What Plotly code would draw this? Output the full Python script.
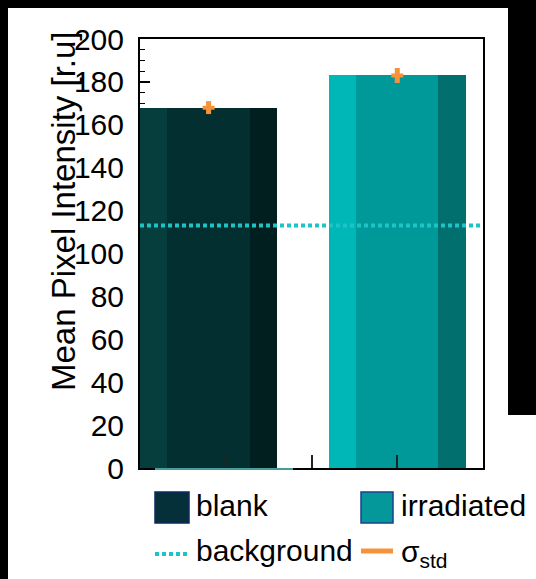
import plotly.graph_objects as go

# ---------------- data ----------------
categories = ["blank", "irradiated"]
mean_intensity = [168, 183]
sigma_std = [3.0, 3.5]
background_level = 113
y_tick_values = [0, 20, 40, 60, 80, 100, 120, 140, 160, 180, 200]
y_tick_labels = ["0", "20", "40", "60", "80", "100", "120", "140", "160", "180", "200"]

# ---------------- style ----------------
W, H = 536, 579
L, R, T, B = 140, 53, 39, 111
PW, PH = W - L - R, H - T - B
FONT = "Liberation Sans, Arial, Helvetica, sans-serif"

centers = [0.2, 0.75]          # bar positions on the x axis (0..1)
bar_width = 0.4
shade_cols = {
    "left": ["#063e3e", "#00b7b7"],
    "mid": ["#032f31", "#009999"],
    "right": ["#021f20", "#006f6e"],
}
shade_frac = {"left": (0.0, 0.2), "mid": (0.2, 0.8), "right": (0.8, 1.0)}
ORANGE = "#f6923a"
CYAN = "#1ec3c6"


def px(x):
    return (x - L) / PW


def py(y):
    return (H - B - y) / PH


fig = go.Figure()

for part, (f0, f1) in shade_frac.items():
    xs = [c - bar_width / 2 + bar_width * (f0 + f1) / 2 for c in centers]
    ws = [bar_width * (f1 - f0)] * len(centers)
    fig.add_trace(go.Bar(
        x=xs, y=mean_intensity, width=ws,
        marker=dict(color=shade_cols[part], line=dict(width=0)),
        name=part, showlegend=False, hoverinfo="skip",
    ))

# background level (dotted)
fig.add_trace(go.Scatter(
    x=[0, 1], y=[background_level, background_level], mode="lines",
    line=dict(color=CYAN, width=4, dash="4px,3px"),
    name="background", showlegend=False,
))

# sigma_std error bars
fig.add_trace(go.Scatter(
    x=centers, y=mean_intensity, mode="markers",
    marker=dict(symbol="cross", size=10, color=ORANGE, line=dict(width=0)),
    error_y=dict(type="data", array=sigma_std, color=ORANGE, thickness=5, width=0),
    name="σ_std", showlegend=False,
))

shapes = []
annotations = []

# black window frame
for x0, x1, y0, y1 in [(0, 8, 0, H), (0, W, 0, 8), (508, W, 0, 415)]:
    shapes.append(dict(type="rect", xref="paper", yref="paper",
                       x0=px(x0), x1=px(x1), y0=py(y1), y1=py(y0),
                       fillcolor="black", line=dict(width=0), layer="above"))

# thin cyan line at bottom of blank bar
shapes.append(dict(type="line", xref="paper", yref="paper",
                   x0=px(155), x1=px(293), y0=py(469), y1=py(469),
                   line=dict(color="#5fd0d0", width=1.5), layer="above"))

# legend symbols
shapes.append(dict(type="rect", xref="paper", yref="paper",
                   x0=px(155), x1=px(189), y0=py(523), y1=py(492),
                   fillcolor="#05303a", line=dict(color="#0d2a60", width=1.5)))
shapes.append(dict(type="rect", xref="paper", yref="paper",
                   x0=px(361), x1=px(393), y0=py(523), y1=py(492),
                   fillcolor="#05989b", line=dict(color="#1c3f8a", width=1.5)))
shapes.append(dict(type="line", xref="paper", yref="paper",
                   x0=px(155), x1=px(188), y0=py(554), y1=py(554),
                   line=dict(color=CYAN, width=4, dash="4px,3px")))
shapes.append(dict(type="line", xref="paper", yref="paper",
                   x0=px(361), x1=px(393), y0=py(551), y1=py(551),
                   line=dict(color=ORANGE, width=5)))

leg_font = dict(family=FONT, size=30, color="black")
for text, x, y in [("blank", 194, 505), ("irradiated", 399, 505),
                   ("background", 194, 550), ("σ<sub>std</sub>", 399, 553)]:
    annotations.append(dict(text=text, x=px(x), y=py(y), xref="paper", yref="paper",
                            xanchor="left", yanchor="middle", showarrow=False,
                            font=leg_font))

# y-axis title
annotations.append(dict(text="Mean Pixel Intensity [r.u]", x=px(63), y=py(211),
                        xref="paper", yref="paper", xanchor="center", yanchor="middle",
                        textangle=-90, showarrow=False,
                        font=dict(family=FONT, size=33, color="black")))

fig.update_layout(
    width=W, height=H,
    margin=dict(l=L, r=R, t=T, b=B, pad=0),
    paper_bgcolor="white", plot_bgcolor="white",
    barmode="overlay", bargap=0,
    showlegend=False,
    shapes=shapes, annotations=annotations,
    font=dict(family=FONT, color="black"),
)
fig.update_xaxes(
    range=[0, 1], showgrid=False, zeroline=False,
    showline=True, linecolor="black", linewidth=2, mirror=True,
    ticks="inside", tickvals=[0.25, 0.5, 0.75], ticklen=13, tickcolor="#222", tickwidth=1.5,
    showticklabels=False, layer="above traces",
)
fig.update_yaxes(
    range=[0, 200], showgrid=False, zeroline=False,
    showline=True, linecolor="black", linewidth=2, mirror=True,
    ticks="inside", tickvals=y_tick_values, ticktext=y_tick_labels,
    ticklen=10, tickwidth=1.5, tickcolor="black",
    minor=dict(ticks="inside", dtick=5, ticklen=5, tickwidth=1, tickcolor="black"),
    tickfont=dict(family=FONT, size=30, color="black"),
    ticklabelstandoff=8,
    layer="below traces",
)

fig.write_html("out.html", config={"displayModeBar": False},
               post_script="document.body.style.margin='0px';")
